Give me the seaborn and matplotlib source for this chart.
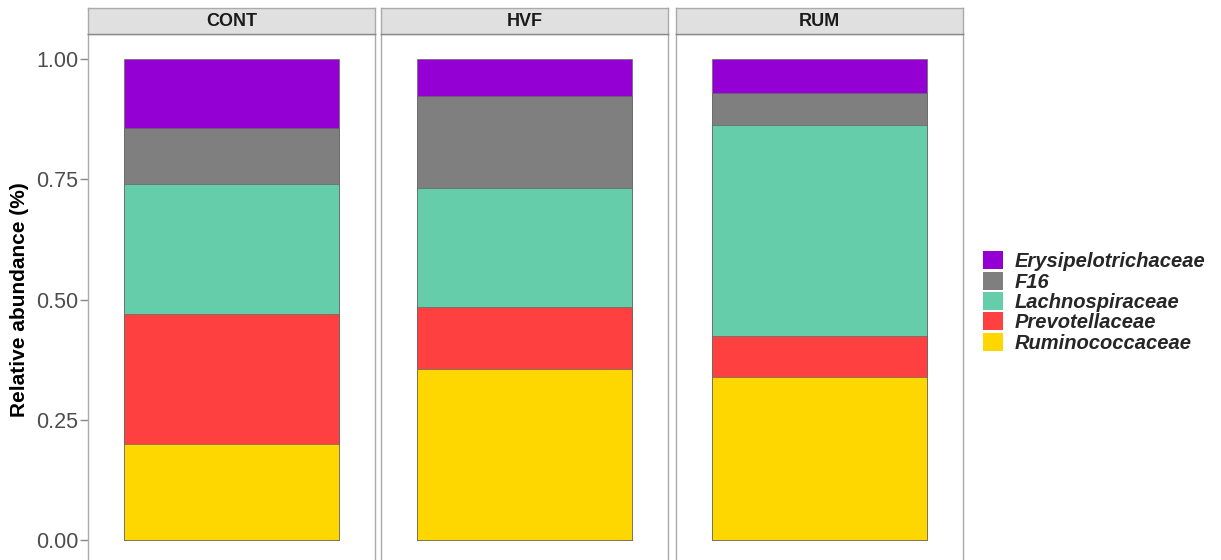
import matplotlib
matplotlib.use('Agg')
import matplotlib.pyplot as plt
from matplotlib.patches import Patch
import seaborn as sns
import pandas as pd

# Data
groups = ['CONT', 'HVF', 'RUM']
families = ['Ruminococcaceae', 'Prevotellaceae', 'Lachnospiraceae', 'F16', 'Erysipelotrichaceae']
ruminococcaceae = [0.200, 0.355, 0.339]
prevotellaceae = [0.270, 0.129, 0.085]
lachnospiraceae = [0.270, 0.248, 0.439]
f16 = [0.117, 0.191, 0.066]
erysipelotrichaceae = [0.143, 0.077, 0.071]
colors = {'Ruminococcaceae': '#FFD700', 'Prevotellaceae': '#FF4040',
          'Lachnospiraceae': '#66CDAA', 'F16': '#7F7F7F',
          'Erysipelotrichaceae': '#9400D3'}

values = [ruminococcaceae, prevotellaceae, lachnospiraceae, f16, erysipelotrichaceae]
df = pd.DataFrame(
    [(g, fam, values[j][i]) for i, g in enumerate(groups) for j, fam in enumerate(families)],
    columns=['group', 'family', 'abundance'])
df['top'] = df.groupby('group')['abundance'].cumsum()

sns.set_style('white')
plt.rcParams['font.family'] = ['Liberation Sans', 'DejaVu Sans']

W, H = 1221, 560
fig = plt.figure(figsize=(W / 100, H / 100), dpi=100)

panel_left = [88, 381, 676]
panel_w = 287
panel_top, panel_bot = 34, 565
strip_top = 8

for k, g in enumerate(groups):
    ax = fig.add_axes([panel_left[k] / W, (H - panel_bot) / H,
                       panel_w / W, (panel_bot - panel_top) / H])
    sub = df[df['group'] == g]
    # draw cumulative heights from the top segment down so each covers the one above
    for fam in families[::-1]:
        row = sub[sub['family'] == fam]
        sns.barplot(data=row, x='group', y='top', color=colors[fam], width=0.9,
                    edgecolor='#666666', linewidth=0.5, saturation=1, ax=ax,
                    errorbar=None)
    ax.set_xlim(-0.6, 0.6)
    ax.set_ylim(-0.052, 1.052)
    ax.set_xlabel('')
    ax.set_ylabel('')
    ax.set_xticks([])
    for s in ax.spines.values():
        s.set_color('#AAAAAA')
        s.set_linewidth(1.0)
    if k == 0:
        ax.set_yticks([0, 0.25, 0.5, 0.75, 1.0])
        ax.set_yticklabels(['0.00', '0.25', '0.50', '0.75', '1.00'])
        ax.tick_params(axis='y', left=True, length=6, width=1, color='#888888',
                       labelsize=15.5, labelcolor='#4D4D4D', pad=1)
    else:
        ax.set_yticks([])
    # facet strip
    sax = fig.add_axes([panel_left[k] / W, (H - panel_top) / H,
                        panel_w / W, (panel_top - strip_top) / H])
    sax.set_facecolor('#E0E0E0')
    sax.set_xticks([])
    sax.set_yticks([])
    for s in sax.spines.values():
        s.set_color('#AAAAAA')
        s.set_linewidth(1.0)
    sax.spines['bottom'].set_color('#888888')
    sax.text(0.5, 0.5, g, ha='center', va='center', fontsize=13,
             fontweight='bold', color='#1A1A1A', transform=sax.transAxes)

fig.text(20 / W, 1 - 300 / H, 'Relative abundance (%)', rotation=90,
         ha='center', va='center', fontsize=15, fontweight='bold', color='black')

handles = [Patch(facecolor=colors[f], edgecolor='none') for f in families[::-1]]
fig.legend(handles, families[::-1], loc='center left',
           bbox_to_anchor=(983 / W, 1 - 302 / H), frameon=False,
           prop={'size': 14.5, 'weight': 'bold', 'style': 'italic'},
           handlelength=1.0, handleheight=1.0, labelspacing=0.02,
           handletextpad=0.55, borderpad=0, borderaxespad=0)

fig.savefig('out.png', dpi=100)
